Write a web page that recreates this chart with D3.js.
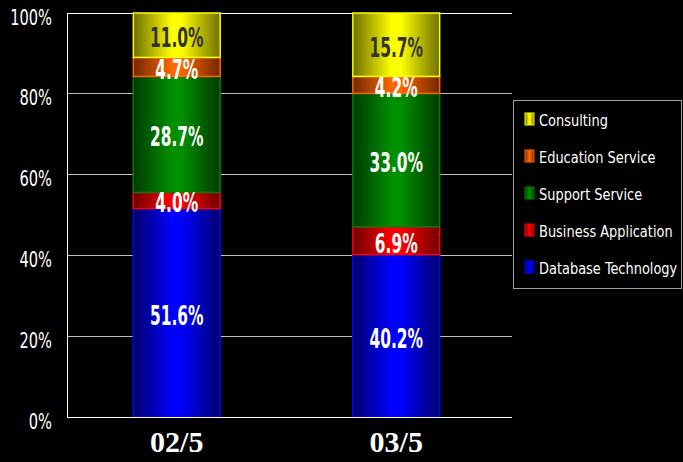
<!DOCTYPE html>
<html><head><meta charset="utf-8">
<script src="https://cdn.jsdelivr.net/npm/d3@7"></script>
<style>
html,body{margin:0;padding:0;background:#000;}
svg{display:block;}
</style></head>
<body>
<script>
const categories = ["02/5", "03/5"];
const seriesNames = ["Database Technology", "Business Application", "Support Service", "Education Service", "Consulting"];
const databaseTechnology = [51.6, 40.2];
const businessApplication = [4.0, 6.9];
const supportService = [28.7, 33.0];
const educationService = [4.7, 4.2];
const consulting = [11.0, 15.7];
const yTicks = [0, 20, 40, 60, 80, 100];

const seriesValues = [databaseTechnology, businessApplication, supportService, educationService, consulting];
const colors = [
  {c:"#0000ff", d:"#00006e", b:"#0000ff", t:"#fff"},
  {c:"#ff0000", d:"#6e0000", b:"#ff0000", t:"#fff"},
  {c:"#009000", d:"#003a00", b:"#008000", t:"#fff"},
  {c:"#ff6600", d:"#702800", b:"#ff6600", t:"#fff"},
  {c:"#ffff00", d:"#707000", b:"#ffff00", t:"#333"}
];
const FONT = "'DejaVu Sans Condensed','Liberation Sans Narrow',sans-serif";

const W = 683, H = 462;
const m = {l:67, r:177, t:13, b:45};
const svg = d3.select("body").append("svg").attr("width", W).attr("height", H);
svg.append("rect").attr("width", W).attr("height", H).attr("fill", "#000");

const defs = svg.append("defs");
colors.forEach((c,i)=>{
  const g = defs.append("linearGradient").attr("id","g"+i).attr("x1","0%").attr("x2","100%").attr("y1","0%").attr("y2","0%");
  g.append("stop").attr("offset","0%").attr("stop-color",c.d);
  g.append("stop").attr("offset","45%").attr("stop-color",c.c);
  g.append("stop").attr("offset","55%").attr("stop-color",c.c);
  g.append("stop").attr("offset","100%").attr("stop-color",c.d);
});

const x = d3.scaleBand().domain(categories).range([m.l, W - m.r]).paddingInner(0.6).paddingOuter(0.3);
const y = d3.scaleLinear().domain([0,100]).range([H - m.b, m.t]);

// gridlines
svg.append("g").selectAll("line").data(yTicks.filter(t=>t>0)).join("line")
  .attr("x1", m.l).attr("x2", 512)
  .attr("y1", d=>y(d)).attr("y2", d=>y(d))
  .attr("stroke", d=> d===100 ? "#ffffff" : "#c0c0c0").attr("stroke-width",1)
  .attr("shape-rendering","crispEdges");

// y axis
const yAxis = d3.axisLeft(y).tickValues(yTicks).tickFormat(d=>d+"%").tickSize(0).tickPadding(0);
const ya = svg.append("g").attr("transform", `translate(${m.l},0)`).call(yAxis);
ya.select(".domain").attr("stroke","#fff").attr("shape-rendering","crispEdges");
ya.selectAll("text").attr("fill","#fff").attr("font-family",FONT)
  .attr("font-size", 22).attr("x", 0).attr("dy", null).attr("y", 0)
  .attr("transform","translate(-15,11) scale(0.74,1)");

// stack
const rows = categories.map((c,i)=>{
  const o = {cat:c};
  seriesNames.forEach((s,j)=>o[s]=seriesValues[j][i]);
  return o;
});
const stack = d3.stack().keys(seriesNames)(rows);

const bars = svg.append("g");
stack.forEach((layer, j)=>{
  const g = bars.append("g");
  g.selectAll("rect").data(layer).join("rect")
    .attr("x", d=>x(d.data.cat)+0.5).attr("width", x.bandwidth()-1)
    .attr("y", d=>y(d[1])).attr("height", d=>y(d[0])-y(d[1]))
    .attr("fill", `url(#g${j})`).attr("stroke", colors[j].b).attr("stroke-width",1.5);
});
stack.forEach((layer, j)=>{
  bars.append("g").selectAll("text").data(layer).join("text")
    .attr("transform", d=>`translate(${x(d.data.cat)+x.bandwidth()/2},${(y(d[0])+y(d[1]))/2 + 12}) scale(0.66,1)`)
    .attr("text-anchor","middle")
    .attr("font-family",FONT)
    .attr("font-weight","bold").attr("font-size",26)
    .attr("fill", colors[j].t)
    .text(d=>(d[1]-d[0]).toFixed(1)+"%");
});

// x axis
const xa = svg.append("g").attr("transform", `translate(0,${H-m.b})`)
  .call(d3.axisBottom(x).tickSize(0).tickPadding(12));
xa.select(".domain").remove();
svg.append("line").attr("x1", m.l).attr("x2", 512).attr("y1", y(0)).attr("y2", y(0))
  .attr("stroke","#fff").attr("shape-rendering","crispEdges");
xa.selectAll("text").attr("fill","#fff").attr("font-family","'Liberation Serif','Times New Roman',serif")
  .attr("font-weight","bold").attr("font-size",30).attr("dy","0.75em");

// legend
const lg = svg.append("g");
lg.append("rect").attr("x",513.5).attr("y",100.5).attr("width",168).attr("height",188)
  .attr("fill","#000").attr("stroke","#a0a0a0");
const legendOrder = [4,3,2,1,0];
legendOrder.forEach((j,k)=>{
  const yy = 120 + k*37;
  lg.append("rect").attr("x",525).attr("y",yy-7).attr("width",9).attr("height",12)
    .attr("fill",`url(#g${j})`).attr("stroke",colors[j].b).attr("stroke-width",1);
  lg.append("text").attr("transform",`translate(539,${yy+6}) scale(0.9,1)`).attr("fill","#fff")
    .attr("font-family",FONT)
    .attr("font-size",16).text(seriesNames[j]);
});
</script>
</body></html>
